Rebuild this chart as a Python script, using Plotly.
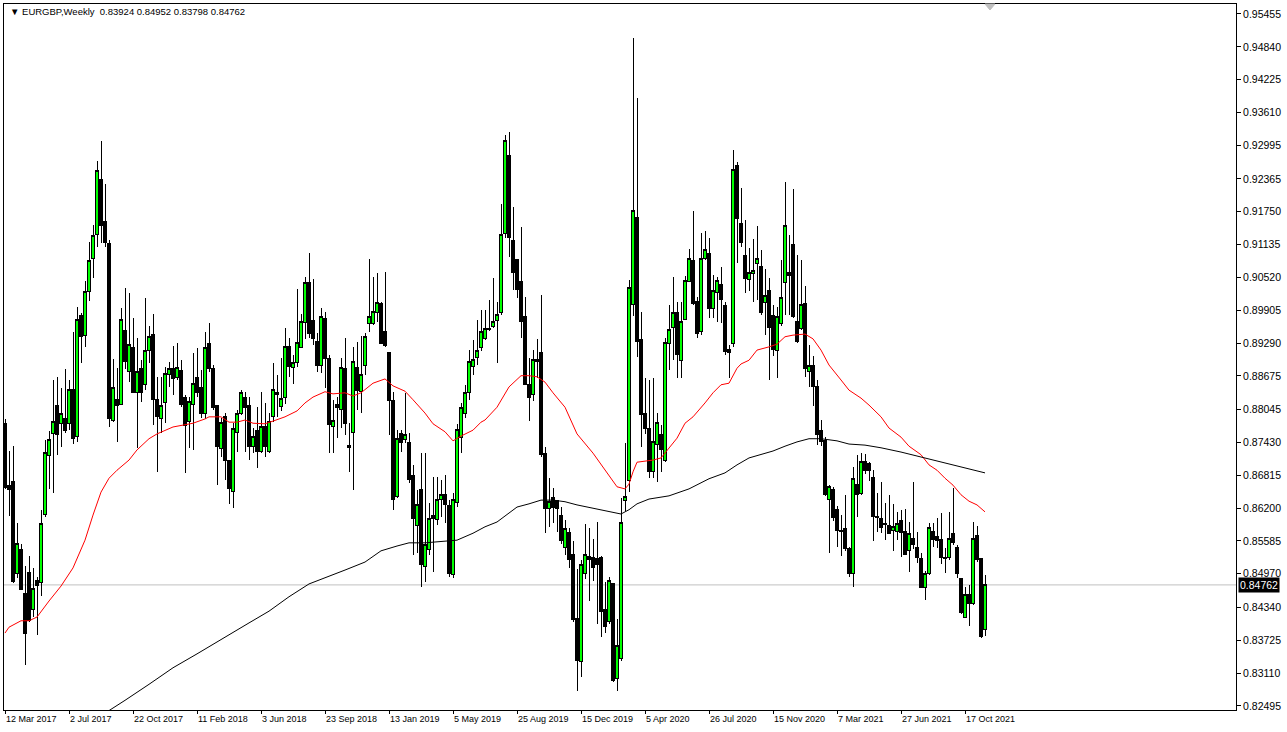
import pandas as pd
import plotly.graph_objects as go

# ---------------- data ----------------
dates = pd.date_range("2017-03-12", periods=246, freq="7D")

open_ = [
0.8778,0.8663,0.8669,0.8497,0.8543,0.8461,0.8500,0.8431,0.8485,0.8480,
0.8609,0.8719,0.8759,0.8813,0.8778,0.8787,0.8778,0.8843,0.8755,0.8980,
0.8944,0.9025,0.9088,0.9133,0.9236,0.9156,0.9115,0.8785,0.8823,0.8815,
0.8952,0.8875,0.8920,0.8837,0.8881,0.8852,0.8916,0.8946,0.8823,0.8787,
0.8817,0.8871,0.8881,0.8864,0.8877,0.8828,0.8783,0.8815,0.8864,0.8845,
0.8797,0.8929,0.8881,0.8813,0.8731,0.8791,0.8710,0.8652,0.8761,0.8798,
0.8828,0.8813,0.8735,0.8766,0.8727,0.8772,0.8727,0.8791,0.8836,0.8811,
0.8828,0.8922,0.8884,0.8892,0.8920,0.8967,0.9042,0.8972,0.8933,0.8888,
0.8976,0.8901,0.8772,0.8815,0.8804,0.8881,0.8738,0.8761,0.8883,0.8838,
0.8888,0.8965,0.8965,0.8986,0.9004,0.8950,0.8911,0.8821,0.8641,0.8759,
0.8748,0.8742,0.8682,0.8587,0.8654,0.8510,0.8542,0.8607,0.8598,0.8637,
0.8645,0.8624,0.8495,0.8630,0.8753,0.8798,0.8836,0.8886,0.8903,0.8920,
0.8937,0.8954,0.8961,0.8972,0.8986,0.9135,0.9280,0.9122,0.9085,0.9045,
0.8978,0.8852,0.8832,0.8894,0.8912,0.8723,0.8620,0.8639,0.8635,0.8607,
0.8546,0.8575,0.8534,0.8414,0.8332,0.8497,0.8530,0.8528,0.8525,0.8528,
0.8431,0.8407,0.8478,0.8300,0.8339,0.8635,0.8671,0.9002,0.9165,0.8935,
0.8798,0.8770,0.8688,0.8740,0.8757,0.8710,0.8929,0.8959,0.8987,0.8896,
0.8974,0.9045,0.9083,0.9007,0.8950,0.9087,0.9096,0.8993,0.9023,0.9038,
0.8999,0.8918,0.8929,0.9261,0.9154,0.9094,0.9049,0.9060,0.9079,0.9072,
0.9006,0.9028,0.8980,0.8916,0.8965,0.9042,0.9062,0.9113,0.8969,0.8957,
0.9004,0.8875,0.8888,0.8847,0.8766,0.8746,0.8637,0.8654,0.8617,0.8579,
0.8581,0.8544,0.8498,0.8665,0.8648,0.8708,0.8703,0.8678,0.8605,0.8600,
0.8592,0.8587,0.8579,0.8577,0.8596,0.8577,0.8540,0.8564,0.8547,0.8525,
0.8472,0.8498,0.8577,0.8566,0.8562,0.8525,0.8528,0.8573,0.8547,0.8489,
0.8416,0.8459,0.8442,0.8568,0.8525,0.83924]

high = [
0.8787,0.8727,0.8736,0.8592,0.8553,0.8511,0.8530,0.8508,0.8491,0.8617,
0.8748,0.8765,0.8860,0.8866,0.8845,0.8881,0.8860,0.8950,0.8997,0.8985,
0.9045,0.9119,0.9150,0.9270,0.9308,0.9227,0.9122,0.8899,0.8883,0.8995,
0.9032,0.9023,0.8976,0.8939,0.8897,0.9014,0.8961,0.8984,0.8866,0.8866,
0.8884,0.8894,0.8924,0.8929,0.8897,0.8832,0.8828,0.8911,0.8920,0.8879,
0.8950,0.8967,0.8888,0.8813,0.8789,0.8798,0.8710,0.8780,0.8804,0.8841,
0.8837,0.8828,0.8770,0.8809,0.8837,0.8817,0.8798,0.8892,0.8869,0.8901,
0.8957,0.8939,0.8907,0.9030,0.8984,0.9053,0.9098,0.9049,0.8948,0.8995,
0.8987,0.8907,0.8823,0.8828,0.8901,0.8939,0.8780,0.8922,0.8931,0.8942,
0.8948,0.9087,0.9053,0.9060,0.9006,0.9062,0.8912,0.8838,0.8766,0.8766,
0.8836,0.8761,0.8701,0.8654,0.8723,0.8723,0.8630,0.8678,0.8678,0.8673,
0.8682,0.8635,0.8648,0.8778,0.8817,0.8851,0.8916,0.8935,0.8972,0.8991,
0.8991,0.9010,0.9051,0.9006,0.9190,0.9319,0.9325,0.9184,0.9087,0.9147,
0.9015,0.8901,0.8916,0.8937,0.9019,0.8735,0.8677,0.8658,0.8635,0.8622,
0.8598,0.8583,0.8559,0.8506,0.8523,0.8590,0.8583,0.8562,0.8594,0.8530,
0.8482,0.8491,0.8478,0.8412,0.8639,0.8742,0.9047,0.9500,0.9388,0.8987,
0.8864,0.8860,0.8864,0.8798,0.8776,0.8939,0.9000,0.9053,0.9006,0.9006,
0.9055,0.9105,0.9177,0.9015,0.9135,0.9139,0.9126,0.9057,0.9053,0.9072,
0.9006,0.8925,0.9291,0.9268,0.9220,0.9160,0.9107,0.9124,0.9148,0.9103,
0.9068,0.9051,0.9000,0.8997,0.9085,0.9231,0.9131,0.9218,0.9094,0.9085,
0.9036,0.8926,0.8905,0.8860,0.8785,0.8753,0.8663,0.8660,0.8624,0.8607,
0.8645,0.8547,0.8697,0.8719,0.8723,0.8721,0.8706,0.8691,0.8648,0.8669,
0.8630,0.8645,0.8628,0.8613,0.8617,0.8618,0.8594,0.8669,0.8575,0.8536,
0.8502,0.8592,0.8592,0.8601,0.8611,0.8545,0.8613,0.8658,0.8551,0.8489,
0.8472,0.8476,0.8594,0.8587,0.8527,0.84952]

low = [
0.8656,0.8605,0.8480,0.8489,0.8467,0.8326,0.8407,0.8416,0.8382,0.8455,
0.8603,0.8656,0.8648,0.8719,0.8735,0.8761,0.8766,0.8740,0.8744,0.8892,
0.8922,0.9008,0.9051,0.9109,0.9117,0.9109,0.8772,0.8781,0.8744,0.8813,
0.8881,0.8856,0.8836,0.8733,0.8819,0.8841,0.8892,0.8776,0.8688,0.8761,
0.8780,0.8847,0.8832,0.8860,0.8809,0.8686,0.8733,0.8729,0.8828,0.8789,
0.8787,0.8875,0.8804,0.8663,0.8716,0.8673,0.8628,0.8620,0.8725,0.8794,
0.8725,0.8710,0.8723,0.8695,0.8723,0.8716,0.8723,0.8781,0.8791,0.8802,
0.8815,0.8866,0.8853,0.8884,0.8920,0.8937,0.8939,0.8926,0.8875,0.8873,
0.8845,0.8723,0.8723,0.8751,0.8770,0.8757,0.8688,0.8654,0.8804,0.8798,
0.8869,0.8950,0.8963,0.8969,0.8929,0.8922,0.8757,0.8617,0.8639,0.8725,
0.8742,0.8667,0.8532,0.8536,0.8472,0.8482,0.8532,0.8500,0.8588,0.8603,
0.8592,0.8491,0.8489,0.8622,0.8723,0.8789,0.8823,0.8869,0.8888,0.8914,
0.8935,0.8952,0.8957,0.8892,0.8982,0.9126,0.9090,0.9028,0.9014,0.8939,
0.8851,0.8783,0.8821,0.8864,0.8716,0.8573,0.8585,0.8592,0.8575,0.8553,
0.8532,0.8508,0.8407,0.8277,0.8304,0.8487,0.8446,0.8484,0.8403,0.8379,
0.8386,0.8403,0.8294,0.8277,0.8334,0.8615,0.8650,0.8980,0.8903,0.8735,
0.8759,0.8676,0.8676,0.8669,0.8688,0.8706,0.8879,0.8897,0.8864,0.8864,
0.8972,0.9043,0.9001,0.8939,0.8944,0.9085,0.8976,0.8976,0.8969,0.8967,
0.8907,0.8864,0.8922,0.9079,0.9109,0.9023,0.9027,0.9006,0.9010,0.8982,
0.8944,0.8860,0.8905,0.8864,0.8961,0.8982,0.8982,0.8976,0.8929,0.8954,
0.8866,0.8847,0.8811,0.8738,0.8736,0.8643,0.8536,0.8596,0.8547,0.8530,
0.8540,0.8491,0.8472,0.8603,0.8645,0.8684,0.8671,0.8558,0.8575,0.8573,
0.8560,0.8572,0.8540,0.8560,0.8528,0.8532,0.8500,0.8543,0.8517,0.8470,
0.8448,0.8495,0.8547,0.8545,0.8515,0.8498,0.8523,0.8551,0.8489,0.8422,
0.8414,0.8399,0.8438,0.8519,0.8377,0.83798]

close = [
0.8658,0.8654,0.8482,0.8553,0.8468,0.8386,0.8409,0.8470,0.8476,0.8592,
0.8725,0.8748,0.8782,0.8757,0.8797,0.8766,0.8843,0.8750,0.8974,0.8941,
0.9025,0.9083,0.9130,0.9253,0.9150,0.9117,0.8787,0.8845,0.8813,0.8974,
0.8894,0.8927,0.8837,0.8875,0.8837,0.8916,0.8941,0.8823,0.8791,0.8813,
0.8873,0.8881,0.8862,0.8883,0.8815,0.8774,0.8819,0.8854,0.8836,0.8798,
0.8920,0.8881,0.8808,0.8736,0.8780,0.8710,0.8656,0.8770,0.8797,0.8836,
0.8808,0.8735,0.8755,0.8727,0.8772,0.8735,0.8783,0.8843,0.8832,0.8826,
0.8922,0.8886,0.8892,0.8931,0.8969,0.9042,0.8948,0.8937,0.8888,0.8978,
0.8901,0.8776,0.8785,0.8808,0.8883,0.8778,0.8733,0.8894,0.8841,0.8871,
0.8941,0.8978,0.8989,0.9006,0.8929,0.8924,0.8821,0.8637,0.8751,0.8742,
0.8757,0.8674,0.8600,0.8626,0.8515,0.8551,0.8601,0.8600,0.8637,0.8645,
0.8626,0.8498,0.8637,0.8768,0.8809,0.8837,0.8894,0.8899,0.8916,0.8950,
0.8957,0.8957,0.8969,0.8982,0.9133,0.9308,0.9126,0.9062,0.9030,0.8969,
0.8852,0.8828,0.8899,0.8899,0.8720,0.8620,0.8632,0.8622,0.8620,0.8559,
0.8581,0.8523,0.8411,0.8334,0.8515,0.8534,0.8523,0.8508,0.8515,0.8427,
0.8399,0.8484,0.8298,0.8362,0.8594,0.8641,0.9034,0.9178,0.8933,0.8795,
0.8770,0.8688,0.8744,0.8781,0.8729,0.8931,0.8954,0.8987,0.8907,0.8969,
0.9047,0.9088,0.9004,0.8948,0.9088,0.9105,0.8993,0.9028,0.9047,0.9010,
0.8914,0.8912,0.9255,0.9162,0.9117,0.9051,0.9062,0.9066,0.9088,0.8986,
0.9019,0.8959,0.8918,0.8978,0.9015,0.9150,0.9055,0.8978,0.8933,0.9002,
0.8881,0.8888,0.8847,0.8757,0.8744,0.8645,0.8661,0.8603,0.8579,0.8577,
0.8544,0.8497,0.8675,0.8645,0.8708,0.8690,0.8690,0.8605,0.8602,0.8583,
0.8590,0.8573,0.8585,0.8592,0.8575,0.8534,0.8573,0.8551,0.8528,0.8472,
0.8498,0.8583,0.8562,0.8559,0.8527,0.8528,0.8564,0.8555,0.8497,0.8424,
0.8459,0.8442,0.8564,0.8523,0.8379,0.84762]

# red moving average (read at the listed bar numbers)
ma_red_bar = [0,1,2,4,6,8,11,14,17,20,22,24,26,28,31,33,36,38,42,47,
              50,51,54,56,58,60,62,65,67,70,73,75,77,80,82,85,87,89,92,95,
              97,100,102,105,107,110,112,114,117,119,120,123,126,129,131,133,135,137,140,143,
              147,151,153,155,156,157,158,160,162,164,166,168,170,172,175,177,179,181,183,184,
              186,188,191,193,195,197,200,201,202,204,206,209,211,214,216,219,221,224,226,229,
              231,233,235,237,239,241,243,245]
ma_red = [0.8386,0.8397,0.8401,0.8409,0.8409,0.8416,0.8446,0.8474,0.8508,0.8560,
          0.8607,0.8650,0.8676,0.8691,0.8710,0.8729,0.8750,0.8759,0.8772,0.8779,
          0.8787,0.8791,0.8791,0.8781,0.8781,0.8785,0.8779,0.8778,0.8783,0.8791,
          0.8802,0.8817,0.8828,0.8838,0.8834,0.8836,0.8830,0.8836,0.8854,0.8862,
          0.8849,0.8839,0.8823,0.8798,0.8778,0.8763,0.8746,0.8755,0.8766,0.8781,
          0.8785,0.8809,0.8847,0.8868,0.8868,0.8866,0.8856,0.8836,0.8809,0.8759,
          0.8723,0.8682,0.8660,0.8656,0.8665,0.8688,0.8706,0.8708,0.8710,0.8714,
          0.8733,0.8751,0.8779,0.8791,0.8817,0.8836,0.8851,0.8854,0.8882,0.8890,
          0.8897,0.8916,0.8922,0.8927,0.8941,0.8944,0.8946,0.8941,0.8937,0.8916,
          0.8888,0.8860,0.8841,0.8826,0.8813,0.8791,0.8770,0.8753,0.8736,0.8720,
          0.8701,0.8691,0.8676,0.8663,0.8645,0.8633,0.8626,0.8613]

# black moving average
ma_black_bar = [25,27,30,36,42,48,55,61,66,71,76,80,85,90,94,98,101,105,111,113,
                117,120,123,126,128,131,134,137,140,143,147,151,154,156,158,161,166,171,176,180,
                183,186,189,192,195,198,201,204,208,211,215,219,224,230,235,240,245]
ma_black = [0.8236,0.8245,0.8260,0.8290,0.8321,0.8347,0.8379,0.8405,0.8427,0.8454,
            0.8478,0.8489,0.8504,0.8519,0.8540,0.8549,0.8555,0.8555,0.8558,0.8560,
            0.8573,0.8585,0.8594,0.8611,0.8622,0.8628,0.8635,0.8635,0.8632,0.8626,
            0.8620,0.8613,0.8609,0.8617,0.8628,0.8637,0.8643,0.8656,0.8675,0.8686,
            0.8701,0.8714,0.8721,0.8727,0.8736,0.8744,0.8750,0.8750,0.8746,0.8740,
            0.8738,0.8733,0.8725,0.8714,0.8705,0.8695,0.8686]

price_ticks = [0.95455,0.94840,0.94225,0.93610,0.92995,0.92365,0.91750,0.91135,0.90520,
               0.89905,0.89290,0.88675,0.88045,0.87430,0.86815,0.86200,0.85585,0.84970,
               0.84340,0.83725,0.83110,0.82495]
date_tick_bars = [0,16,32,48,64,80,96,112,128,144,160,176,192,208,224,240]
date_tick_text = ["12 Mar 2017","2 Jul 2017","22 Oct 2017","11 Feb 2018","3 Jun 2018",
                  "23 Sep 2018","13 Jan 2019","5 May 2019","25 Aug 2019","15 Dec 2019",
                  "5 Apr 2020","26 Jul 2020","15 Nov 2020","7 Mar 2021","27 Jun 2021",
                  "17 Oct 2021"]
last_price = 0.84762
title_text = "\u25bc EURGBP,Weekly\u00a0\u00a00.83924 0.84952 0.83798 0.84762"

# ---------------- figure ----------------
W, H = 1287, 732
ML, MR, MT, MB = 4, 51, 4, 22
PW, PH = W - ML - MR, H - MT - MB

FONT = "Liberation Sans"
fig = go.Figure()
fig.add_trace(go.Candlestick(
    x=dates, open=open_, high=high, low=low, close=close,
    increasing=dict(line=dict(color="black", width=1), fillcolor="#00FF00"),
    decreasing=dict(line=dict(color="black", width=1), fillcolor="black"),
    whiskerwidth=0, showlegend=False, hoverinfo="skip"))
fig.add_trace(go.Scatter(x=dates[ma_red_bar], y=ma_red, mode="lines",
                         line=dict(color="red", width=1), showlegend=False, hoverinfo="skip"))
fig.add_trace(go.Scatter(x=dates[ma_black_bar], y=ma_black, mode="lines",
                         line=dict(color="black", width=1), showlegend=False, hoverinfo="skip"))

week = pd.Timedelta(days=7)
x0 = dates[0] - 0.25 * week
x1 = dates[0] + 307.75 * week

fig.update_layout(
    width=W, height=H, margin=dict(l=ML, r=MR, t=MT, b=MB, pad=0, autoexpand=False),
    paper_bgcolor="white", plot_bgcolor="white",
    font=dict(family=FONT, size=10, color="black"),
    boxgap=0.2, hovermode=False,
    xaxis=dict(type="date", range=[x0, x1], rangeslider=dict(visible=False),
               automargin=False, tickangle=0,
               showgrid=False, zeroline=False, showline=True, mirror=True,
               linecolor="black", linewidth=1,
               tickvals=dates[date_tick_bars], ticktext=date_tick_text,
               ticks="outside", ticklen=3, tickcolor="black",
               ticklabelposition="outside right",
               tickfont=dict(family=FONT, size=9, color="black")),
    yaxis=dict(side="right", range=[0.82419, 0.95642], showgrid=False, zeroline=False,
               automargin=False,
               showline=True, mirror=True, linecolor="black", linewidth=1,
               tickvals=price_ticks, ticktext=[f"{v:.5f}" for v in price_ticks],
               ticks="outside", ticklen=4, tickcolor="black",
               tickfont=dict(family=FONT, size=10.5, color="black")),
)

# current price line and label
fig.add_shape(type="line", xref="paper", x0=0, x1=1, yref="y", y0=last_price, y1=last_price,
              line=dict(color="#C0C0C0", width=1), layer="below")
fig.add_annotation(xref="paper", x=1, yref="y", y=last_price, xanchor="left", yanchor="middle",
                   xshift=2, text=f"{last_price:.5f}", showarrow=False,
                   bgcolor="black", font=dict(family=FONT, size=10.5, color="white"),
                   borderpad=1)

# title
fig.add_annotation(xref="paper", yref="paper", x=(8 - ML) / PW, y=1 - (12 - MT) / PH,
                   xanchor="left", yanchor="middle", text=title_text, showarrow=False,
                   font=dict(family=FONT, size=9.5, color="black"))

# chart-shift marker (small grey triangle at the top)
fx = lambda px: (px - ML) / PW
fy = lambda py: 1 - (py - MT) / PH
fig.add_shape(type="path", xref="paper", yref="paper",
              path=f"M {fx(985)} {fy(4)} L {fx(995)} {fy(4)} L {fx(990)} {fy(10)} Z",
              fillcolor="#C0C0C0", line=dict(color="#C0C0C0", width=1))

post = ("document.body.style.margin='0';document.body.style.padding='0';"
        "var s=document.createElement('style');"
        "s.innerHTML='g.trace.boxes path{shape-rendering:crispEdges}';"
        "document.head.appendChild(s);")
fig.write_html("out.html", post_script=post, config={"displayModeBar": False})
